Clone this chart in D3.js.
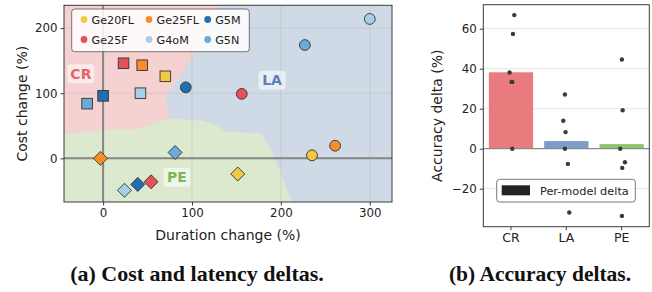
<!DOCTYPE html>
<html>
<head>
<meta charset="utf-8">
<script src="https://cdn.jsdelivr.net/npm/d3@7"></script>
<style>
  body { margin: 0; background: #fff; }
  svg { display: block; font-family: "DejaVu Sans", sans-serif; }
</style>
</head>
<body>
<svg width="652" height="292"></svg>
<script>
// models and colours
var models = ['Ge20FL', 'Ge25FL', 'G5M', 'Ge25F', 'G4oM', 'G5N'];
var modelColors = ['#f1c944', '#f68e2c', '#1f6fb2', '#e5515a', '#a6d0e7', '#68acd8'];

// (a) duration / cost change per model, one array pair per strategy
var laDuration = [235, 261, 93, 156, 300, 227];
var laCost     = [4.6, 19.4, 109, 99, 214, 174];
var crDuration = [70, 44, 0, 23, 42, -18];
var crCost     = [126, 143, 96, 146, 100, 84];
var peDuration = [151.5, -3, 39, 54, 24, 81];
var peCost     = [-24, 0, -40, -36, -49, 9];

// decision regions (data units)
var crRegion = [[-60,250],[135,250],[103,161],[81,115],[70,97],[72,80],[75,61],[38,46],[30,43],[19,46],[-5,42],[-60,36]];
var peRegion = [[-60,36],[-5,42],[19,46],[30,43],[38,46],[75,61],[110,58],[125,52],[139,41],[178,38],[190,12],[216,-80],[-60,-80]];

var xTicksA = [0, 100, 200, 300];
var yTicksA = [0, 100, 200];

// (b) accuracy deltas
var strategies = ['CR', 'LA', 'PE'];
var barValues = [38.2, 3.8, 2.3];
var perModel = [
  [66.8, 57.4, 38.1, 33.4, 33.4, 0],
  [27.1, 14, 8.3, 0, -7.6, -31.9],
  [44.6, 19.2, 0, -6.8, -9.6, -33.6]
];
var jitter = [
  [0.06, 0.036, -0.025, 0.011, 0.024, 0.024],
  [-0.025, -0.054, -0.013, -0.025, 0.029, 0.054],
  [0.005, 0.018, -0.025, 0.06, 0.011, 0.005]
];
var yTicksB = [-20, 0, 20, 40, 60];

var regionFill = {CR: '#f5d1d1', LA: '#cfdae6', PE: '#dce9cf'};
var regionText = {CR: '#e5636a', LA: '#5a82b8', PE: '#7db950'};
var barColors = ['#e97b7f', '#7b9dc8', '#8dc56c'];

var svg = d3.select('svg');
var frameColor = '#3a3a3a';

// ---------- (a) ----------
var x = d3.scaleLinear().domain([-44, 325]).range([64, 392]);
var y = d3.scaleLinear().domain([-67, 235]).range([202, 5.3]);

svg.append('clipPath').attr('id', 'clipA')
  .append('rect')
  .attr('x', x.range()[0]).attr('y', y.range()[1])
  .attr('width', x.range()[1] - x.range()[0])
  .attr('height', y.range()[0] - y.range()[1]);

var a = svg.append('g');
var plotA = a.append('g').attr('clip-path', 'url(#clipA)');

plotA.append('rect')
  .attr('x', x.range()[0]).attr('y', y.range()[1])
  .attr('width', x.range()[1] - x.range()[0])
  .attr('height', y.range()[0] - y.range()[1])
  .attr('fill', regionFill.LA);

var line = d3.line().x(d => x(d[0])).y(d => y(d[1]));
plotA.append('path').attr('d', line(crRegion) + 'Z').attr('fill', regionFill.CR);
plotA.append('path').attr('d', line(peRegion) + 'Z').attr('fill', regionFill.PE);

// grid
plotA.selectAll('.gx').data(xTicksA).enter().append('line')
  .attr('x1', d => x(d)).attr('x2', d => x(d))
  .attr('y1', y.range()[0]).attr('y2', y.range()[1])
  .attr('stroke', '#a9a9a9').attr('stroke-opacity', 0.3).attr('stroke-width', 1);
plotA.selectAll('.gy').data(yTicksA).enter().append('line')
  .attr('y1', d => y(d)).attr('y2', d => y(d))
  .attr('x1', x.range()[0]).attr('x2', x.range()[1])
  .attr('stroke', '#a9a9a9').attr('stroke-opacity', 0.3).attr('stroke-width', 1);

// zero lines
plotA.append('line').attr('x1', x(0)).attr('x2', x(0))
  .attr('y1', y.range()[0]).attr('y2', y.range()[1])
  .attr('stroke', '#858585').attr('stroke-width', 2);
plotA.append('line').attr('y1', y(0)).attr('y2', y(0))
  .attr('x1', x.range()[0]).attr('x2', x.range()[1])
  .attr('stroke', '#858585').attr('stroke-width', 2);

// region labels
var regionLabels = [
  {name: 'CR', dx: -25, dy: 130},
  {name: 'LA', dx: 190, dy: 120},
  {name: 'PE', dx: 83, dy: -29}
];
regionLabels.forEach(function(r) {
  var lg = plotA.append('g').attr('transform', 'translate(' + x(r.dx) + ',' + y(r.dy) + ')');
  lg.append('rect').attr('x', -13.5).attr('y', -9.5).attr('width', 27).attr('height', 19)
    .attr('rx', 3).attr('fill', '#fff').attr('fill-opacity', 0.55);
  lg.append('text').attr('text-anchor', 'middle').attr('dy', '0.36em')
    .attr('font-weight', 'bold').attr('font-size', 14)
    .attr('fill', regionText[r.name]).text(r.name);
});

// markers
var drawOrder = [4, 5, 0, 1, 2, 3];
var pts = [];
drawOrder.forEach(function(i) {
  pts.push({shape: 'square', m: i, dx: crDuration[i], dy: crCost[i]});
});
drawOrder.forEach(function(i) {
  pts.push({shape: 'circle', m: i, dx: laDuration[i], dy: laCost[i]});
});
drawOrder.forEach(function(i) {
  pts.push({shape: 'diamond', m: i, dx: peDuration[i], dy: peCost[i]});
});

var markers = a.append('g');
pts.forEach(function(p) {
  var cx = x(p.dx), cy = y(p.dy), el;
  if (p.shape === 'circle') {
    el = markers.append('circle').attr('cx', cx).attr('cy', cy).attr('r', 5.4);
  } else if (p.shape === 'square') {
    el = markers.append('rect').attr('x', cx - 5.3).attr('y', cy - 5.3)
      .attr('width', 10.6).attr('height', 10.6);
  } else {
    el = markers.append('path')
      .attr('d', 'M' + cx + ',' + (cy - 7) + 'L' + (cx + 7) + ',' + cy + 'L' + cx + ',' + (cy + 7) + 'L' + (cx - 7) + ',' + cy + 'Z');
  }
  el.attr('fill', modelColors[p.m]).attr('stroke', '#333').attr('stroke-width', 0.9);
});

// legend (a)
var legA = a.append('g');
legA.append('rect').attr('x', 71.7).attr('y', 9).attr('width', 177.6).attr('height', 42.7)
  .attr('rx', 3).attr('fill', '#fff').attr('fill-opacity', 0.85)
  .attr('stroke', '#555').attr('stroke-width', 0.8);
var legCols = [84, 149, 207.7];
models.forEach(function(m, i) {
  var col = i % 3, row = Math.floor(i / 3);
  var ly = 19.5 + row * 20;
  legA.append('circle').attr('cx', legCols[col]).attr('cy', ly).attr('r', 3.4)
    .attr('fill', modelColors[i]);
  legA.append('text').attr('x', legCols[col] + 7.5).attr('y', ly).attr('dy', '0.36em')
    .attr('font-size', 11.2).attr('fill', '#222').text(m);
});

// frame and axes (a)
a.append('rect').attr('x', x.range()[0]).attr('y', y.range()[1])
  .attr('width', x.range()[1] - x.range()[0]).attr('height', y.range()[0] - y.range()[1])
  .attr('fill', 'none').attr('stroke', frameColor).attr('stroke-width', 1);

var xAxisA = a.append('g').attr('transform', 'translate(0,' + y.range()[0] + ')')
  .call(d3.axisBottom(x).tickValues(xTicksA).tickSize(3.5).tickPadding(3));
var yAxisA = a.append('g').attr('transform', 'translate(' + x.range()[0] + ',0)')
  .call(d3.axisLeft(y).tickValues(yTicksA).tickSize(3.5).tickPadding(3));

a.append('text').attr('x', (x.range()[0] + x.range()[1]) / 2).attr('y', 240)
  .attr('text-anchor', 'middle').attr('font-size', 14).attr('fill', '#222')
  .text('Duration change (%)');
a.append('text').attr('transform', 'translate(27,' + ((y.range()[0] + y.range()[1]) / 2) + ') rotate(-90)')
  .attr('text-anchor', 'middle').attr('font-size', 14).attr('fill', '#222')
  .text('Cost change (%)');

// ---------- (b) ----------
var xb = d3.scaleBand().domain(strategies).range([483.3, 649.3]).paddingInner(0.2).paddingOuter(0.1);
var yb = d3.scaleLinear().domain([-39, 72]).range([226.7, 4.7]);
var step = xb.step();

var b = svg.append('g');
b.selectAll('.gb').data(yTicksB.filter(d => d !== 0)).enter().append('line')
  .attr('x1', 483.3).attr('x2', 649.3)
  .attr('y1', d => yb(d)).attr('y2', d => yb(d))
  .attr('stroke', '#e6e6e6').attr('stroke-width', 1);

b.selectAll('.bar').data(strategies).enter().append('rect')
  .attr('x', d => xb(d)).attr('width', xb.bandwidth())
  .attr('y', (d, i) => yb(Math.max(0, barValues[i])))
  .attr('height', (d, i) => Math.abs(yb(barValues[i]) - yb(0)))
  .attr('fill', (d, i) => barColors[i]);

b.append('line').attr('x1', 483.3).attr('x2', 649.3)
  .attr('y1', yb(0)).attr('y2', yb(0))
  .attr('stroke', '#8a8a8a').attr('stroke-width', 1.2);

strategies.forEach(function(s, i) {
  b.selectAll('.dot' + i).data(perModel[i]).enter().append('circle')
    .attr('cx', (d, j) => xb(s) + xb.bandwidth() / 2 + jitter[i][j] * step)
    .attr('cy', d => yb(d))
    .attr('r', 2.2).attr('fill', '#3a3a3a');
});

// legend (b)
var legB = b.append('g');
legB.append('rect').attr('x', 496.7).attr('y', 179.3).attr('width', 138.6).attr('height', 22.7)
  .attr('rx', 3).attr('fill', '#fff').attr('fill-opacity', 0.85)
  .attr('stroke', '#555').attr('stroke-width', 0.8);
legB.append('rect').attr('x', 501.7).attr('y', 185.3).attr('width', 28.3).attr('height', 10)
  .attr('fill', '#222');
legB.append('text').attr('x', 540).attr('y', 190.6).attr('dy', '0.36em')
  .attr('font-size', 11.3).attr('fill', '#222').text('Per-model delta');

b.append('rect').attr('x', 483.3).attr('y', 4.7).attr('width', 166).attr('height', 222)
  .attr('fill', 'none').attr('stroke', frameColor).attr('stroke-width', 1);

var xAxisB = b.append('g').attr('transform', 'translate(0,226.7)')
  .call(d3.axisBottom(xb).tickSize(3.5).tickPadding(3));
var yAxisB = b.append('g').attr('transform', 'translate(483.3,0)')
  .call(d3.axisLeft(yb).tickValues(yTicksB).tickSize(3.5).tickPadding(3)
    .tickFormat(d => d < 0 ? '\u2212' + Math.abs(d) : d));

b.append('text').attr('transform', 'translate(442,' + ((226.7 + 4.7) / 2) + ') rotate(-90)')
  .attr('text-anchor', 'middle').attr('font-size', 14).attr('fill', '#222')
  .text('Accuracy delta (%)');

// axis styling
[xAxisA, yAxisA, xAxisB, yAxisB].forEach(function(ax) {
  ax.select('.domain').remove();
  ax.selectAll('.tick line').attr('stroke', frameColor);
  ax.selectAll('.tick text').attr('font-size', 11.8).attr('fill', '#222')
    .attr('font-family', '"DejaVu Sans", sans-serif');
});
xAxisB.selectAll('.tick text').attr('font-size', 12.5);

// captions
svg.append('text').attr('x', 197).attr('y', 281).attr('text-anchor', 'middle')
  .attr('font-family', '"Liberation Serif", serif').attr('font-weight', 'bold')
  .attr('font-size', 22).attr('fill', '#111').text('(a) Cost and latency deltas.');
svg.append('text').attr('x', 540).attr('y', 281).attr('text-anchor', 'middle')
  .attr('font-family', '"Liberation Serif", serif').attr('font-weight', 'bold')
  .attr('font-size', 21.5).attr('fill', '#111').text('(b) Accuracy deltas.');
</script>
</body>
</html>
